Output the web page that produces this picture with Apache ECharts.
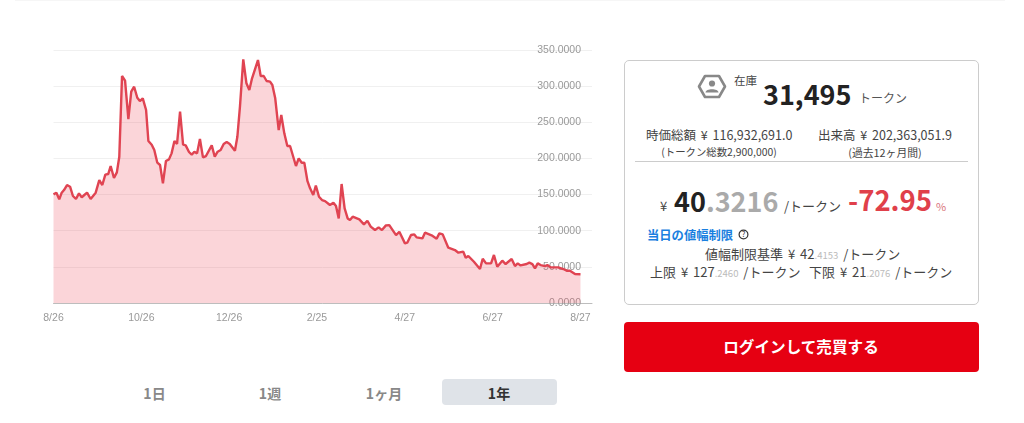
<!DOCTYPE html>
<html lang="ja">
<head>
<meta charset="utf-8">
<title>トークン価格</title>
<script src="https://cdn.jsdelivr.net/npm/echarts@6/dist/echarts.min.js"></script>
<style>
    html, body { margin: 0; padding: 0; background: #fff; overflow: hidden; }
    body { width: 1024px; height: 423px; position: relative; font-family: "Noto Sans CJK JP", "Noto Sans", sans-serif; color: #444; }
    #chart { position: absolute; left: 0; top: 0; width: 610px; height: 340px; }
    .box { position: absolute; box-sizing: border-box; }
    .t { position: absolute; white-space: nowrap; line-height: 1; transform: translateY(-50%); }
    .c { transform: translate(-50%, -50%); }
    .b { font-weight: 700; }
    .dim { color: #aaa; }
    .small { color: #bbb; font-size: 9.5px; }
    .row { font-size: 13px; word-spacing: 2px; }
    .top { font-size: 12.5px; word-spacing: 2px; }
</style>
</head>
<body>
<div class="box" style="left:15px;top:0;width:990px;height:1px;background:#f6f6f6"></div>
<div id="chart"></div>

<!-- 右側パネル -->
<div class="box" style="left:624px;top:60px;width:355px;height:245px;border:1px solid #ccc;border-radius:5px"></div>
<svg class="box" style="left:697px;top:74px" width="30" height="25" viewBox="0 0 30 25">
    <path d="M8 2 H22 L28 12.5 L22 23 H8 L2 12.5 Z" fill="none" stroke="#888" stroke-width="2.6" stroke-linejoin="round"/>
    <circle cx="15" cy="9.5" r="3.1" fill="#888"/>
    <path d="M8.5 18.5 C8.5 14 21.5 14 21.5 18.5 Z" fill="#888"/>
</svg>
<span class="t" style="left:734px;top:81px;font-size:11.5px">在庫</span>
<span class="t b" style="left:763px;top:93px;font-size:27px;color:#222">31,495</span>
<span class="t" style="left:859px;top:98px;font-size:12px;color:#555">トークン</span>
<span class="t top" style="left:646px;top:135px">時価総額 ¥ 116,932,691.0</span>
<span class="t top" style="left:818px;top:135px">出来高 ¥ 202,363,051.9</span>
<span class="t c" style="left:719px;top:152px;font-size:10.4px">(トークン総数2,900,000)</span>
<span class="t c" style="left:885px;top:152px;font-size:10.8px">(過去12ヶ月間)</span>
<div class="box" style="left:635px;top:161px;width:333px;height:1px;background:#ccc"></div>

<span class="t" style="left:660px;top:205px;font-size:13px">¥</span>
<span class="t b" style="left:674px;top:200px;font-size:27px;color:#222">40<span class="dim">.3216</span></span>
<span class="t" style="left:784px;top:205px;font-size:13px">/トークン</span>
<span class="t b" style="left:848px;top:200px;font-size:27.5px;color:#e0404a">-72.95</span>
<span class="t" style="left:936px;top:206px;font-size:11px;color:#d9737b">%</span>
<span class="t b" style="left:647px;top:235px;font-size:12.3px;color:#1a7fe0">当日の値幅制限</span>
<svg class="box" style="left:738px;top:229px" width="11" height="11" viewBox="0 0 11 11">
    <circle cx="5.5" cy="5.5" r="4.4" fill="none" stroke="#333" stroke-width="1.2"/>
    <text x="5.5" y="8.2" font-size="7.5" text-anchor="middle" fill="#333">?</text>
</svg>
<span class="t row" style="left:705px;top:254px">値幅制限基準 ¥ 42<span class="small">.4153</span> /トークン</span>
<span class="t row" style="left:650px;top:272px">上限 ¥ 127<span class="small">.2460</span> /トークン</span>
<span class="t row" style="left:809px;top:272px">下限 ¥ 21<span class="small">.2076</span> /トークン</span>

<!-- 購入ボタン -->
<div class="box" style="left:624px;top:322px;width:355px;height:50px;background:#e60012;border-radius:4px"></div>
<span class="t c b" style="left:801px;top:347px;font-size:15.6px;color:#fff">ログインして売買する</span>

<!-- 期間タブ -->
<div class="box" style="left:442px;top:379px;width:115px;height:26px;background:#dfe3e8;border-radius:4px"></div>
<span class="t c b" style="left:154.5px;top:392.5px;font-size:14px;color:#888">1日</span>
<span class="t c b" style="left:270px;top:392.5px;font-size:14px;color:#888">1週</span>
<span class="t c b" style="left:384px;top:392.5px;font-size:14px;color:#888">1ヶ月</span>
<span class="t c b" style="left:499px;top:392.5px;font-size:14px;color:#333">1年</span>

<script>
// 軸ラベル（61日ごと）
const tickLabels = ['8/26', '10/26', '12/26', '2/25', '4/27', '6/27', '8/27'];

// 8/26からの経過日数
const days = [
    0, 2, 4, 5.7, 7.3, 9.4, 11.5, 13.5, 15.6, 17.7, 19.6, 21.4, 23.3, 25.8, 29.3, 31.8, 33.9, 36, 38, 39.7,
    42, 44, 45.7, 47.6, 49.7, 52, 54, 56, 58.2, 60, 62, 64.3, 65.9, 68.2, 70, 72.1, 74, 76, 78.1, 80.2,
    82, 84, 85.8, 87.9, 90, 91.8, 94.1, 96, 97.8, 99.7, 101.7, 103.8, 105.9, 109.9, 112, 114, 116.1, 118.2, 120.3, 122.4,
    126, 127.7, 129.5, 131.8, 134, 136, 137.9, 142, 143.9, 146, 148, 150.4, 152, 154, 156.4, 158.2, 160.3, 162.4, 164.3, 168.4,
    170.3, 172.4, 174.2, 176.4, 178.2, 180.4, 182.2, 184.4, 186.5, 188.6, 192, 194.4, 196.2, 198.1, 200.1, 202.2, 204.3, 205.9, 207.8, 212.4,
    215.6, 218, 220.3, 223.3, 225.8, 228.1, 230.9, 233.2, 237.9, 240.2, 244.1, 245.7, 248.3, 250.6, 252.2, 256.2, 258, 262.6, 266.1, 268,
    270.3, 274.2, 278.8, 281.2, 284.6, 286.3, 288.1, 292, 296.2, 298.1, 300.4, 303.9, 305.9, 308.2, 311.7, 314, 318.2, 320.5, 322.4, 324.4,
    328.6, 330.5, 332.6, 334.4, 336.3, 338.3, 341.4, 343, 345.3, 350.6, 354.1, 356.4, 358.7, 362.2, 366
];

// 価格（チャートからの読み取り値）
const prices = [
    150.3, 152.6, 143.4, 152.6, 156.3, 163.2, 160.9, 148, 143.9, 151.7, 146.2, 149.4, 152.6, 143.9, 152.6, 170, 163.2, 177.5, 178.4, 189.5,
    172.9, 180.7, 202.4, 314, 307.5, 254.5, 292.3, 299.2, 284, 279.4, 283.1, 267, 224.1, 219, 211.6, 194.1, 190.9, 165.5, 196.4, 198.7,
    207, 224.1, 220, 264.7, 219, 218.1, 208.9, 205.2, 209.3, 207, 226.9, 201.5, 203.3, 218.1, 202.4, 209.3, 211.6, 220, 222.7, 220,
    210.7, 230, 271.6, 337, 303.9, 294.6, 310.8, 336.1, 314, 314, 307.1, 306.2, 301.6, 283.1, 239.3, 260, 234.7, 217.2, 217.2, 189.5,
    200.1, 194.1, 194.1, 168.5, 158.6, 149.4, 162.5, 147, 142.4, 141, 135.5, 138.7, 134.1, 117, 164.6, 130.9, 117, 114.8, 119.4, 115.7,
    108.8, 113.8, 105.6, 100.9, 104.6, 100.9, 107.4, 107.8, 94, 98.6, 82.5, 83.4, 94, 94.9, 90.8, 89.4, 97.2, 93.6, 89, 96.3,
    94.9, 76.5, 73.3, 69.6, 71, 62.7, 65, 57.1, 47, 61.3, 54.8, 54.8, 66.4, 50.2, 58.5, 53.9, 60.8, 51.1, 54.8, 52,
    53.9, 55.8, 53.9, 47.9, 54.8, 52.5, 51.1, 52.5, 49.3, 49.3, 47, 44.7, 44.7, 40.1, 39.8
];

const chart = echarts.init(document.getElementById('chart'));
chart.setOption({
    animation: false,
    grid: { left: 53.5, right: 18, top: 50, bottom: 37 },
    xAxis: {
        type: 'value',
        min: 0,
        max: 374,
        interval: 61,
        splitLine: { show: false },
        axisTick: { show: false },
        axisLine: { show: true, lineStyle: { color: '#bdbdbd', width: 1 } },
        axisLabel: {
            margin: 10,
            fontSize: 10.5,
            color: '#999',
            fontFamily: 'Liberation Sans',
            showMinLabel: true,
            showMaxLabel: false,
            formatter: v => tickLabels[v / 61] || ''
        }
    },
    yAxis: {
        type: 'value',
        position: 'right',
        min: 0,
        max: 350,
        interval: 50,
        axisLine: { show: false },
        axisTick: { show: false },
        splitLine: { lineStyle: { color: '#f0f0f0', width: 1 } },
        axisLabel: {
            inside: true,
            margin: 11,
            fontSize: 10.5,
            color: '#999',
            fontFamily: 'Liberation Sans',
            formatter: v => v.toFixed(4)
        }
    },
    series: [{
        type: 'line',
        data: days.map((d, i) => [d, prices[i]]),
        symbol: 'none',
        lineStyle: { color: '#e04452', width: 2.4 },
        areaStyle: { color: 'rgba(240, 80, 95, 0.24)', opacity: 1 }
    }]
});
</script>
</body>
</html>
